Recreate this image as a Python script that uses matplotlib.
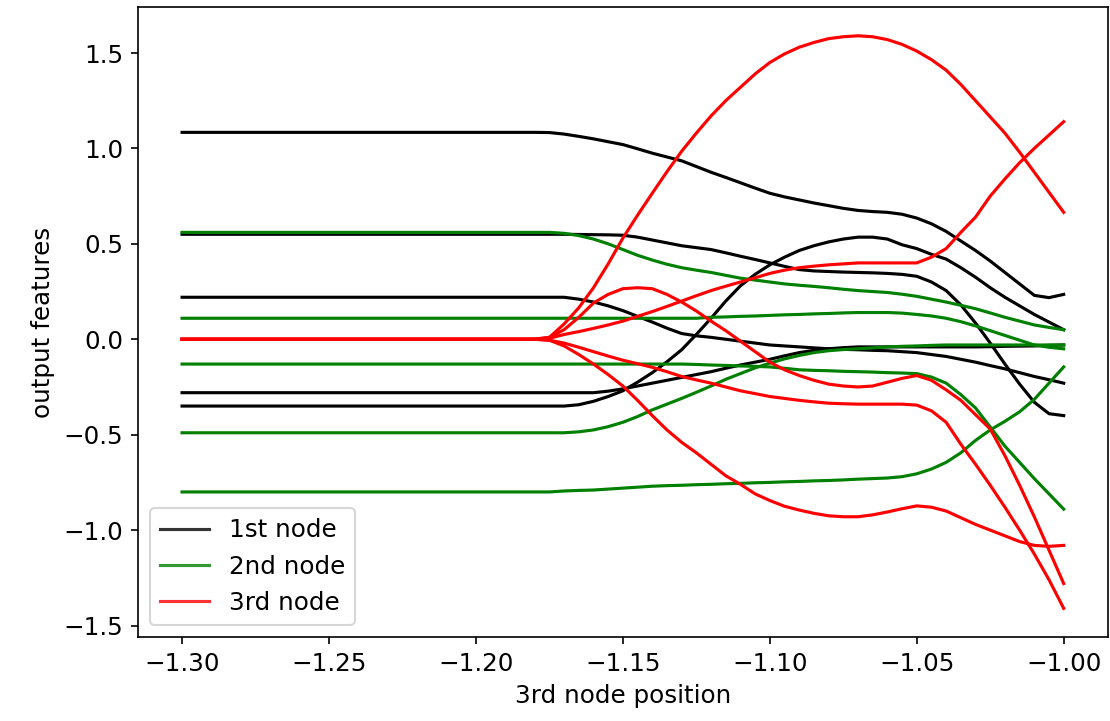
import numpy as np
import matplotlib
matplotlib.use("Agg")
import matplotlib.pyplot as plt

# 3rd node position (x) values
position = [-1.300, -1.180, -1.175, -1.170, -1.165, -1.160, -1.155, -1.150, -1.145, -1.140,
            -1.135, -1.130, -1.125, -1.120, -1.115, -1.110, -1.105, -1.100, -1.095, -1.090,
            -1.085, -1.080, -1.075, -1.070, -1.065, -1.060, -1.055, -1.050, -1.045, -1.040,
            -1.035, -1.030, -1.025, -1.020, -1.015, -1.010, -1.005, -1.000]

# 1st node output features
node1 = [
    [1.084, 1.084, 1.083, 1.075, 1.063, 1.05, 1.035, 1.02, 0.998, 0.975,
     0.955, 0.935, 0.905, 0.875, 0.848, 0.82, 0.792, 0.765, 0.746, 0.73,
     0.714, 0.70, 0.686, 0.675, 0.669, 0.665, 0.655, 0.635, 0.605, 0.565,
     0.515, 0.465, 0.41, 0.35, 0.29, 0.23, 0.218, 0.235],
    [0.55, 0.55, 0.55, 0.55, 0.549, 0.548, 0.547, 0.545, 0.535, 0.52,
     0.505, 0.49, 0.48, 0.47, 0.453, 0.435, 0.418, 0.40, 0.382, 0.365,
     0.358, 0.355, 0.352, 0.35, 0.348, 0.345, 0.34, 0.33, 0.30, 0.255,
     0.18, 0.085, -0.02, -0.13, -0.235, -0.33, -0.39, -0.40],
    [0.22, 0.22, 0.22, 0.22, 0.21, 0.195, 0.175, 0.15, 0.12, 0.09,
     0.058, 0.03, 0.018, 0.01, 0.0, -0.01, -0.02, -0.03, -0.035, -0.04,
     -0.045, -0.05, -0.053, -0.055, -0.058, -0.06, -0.065, -0.07, -0.08, -0.09,
     -0.105, -0.12, -0.138, -0.155, -0.175, -0.195, -0.212, -0.23],
    [-0.28, -0.28, -0.28, -0.28, -0.28, -0.28, -0.272, -0.26, -0.245, -0.23,
     -0.215, -0.20, -0.185, -0.17, -0.152, -0.135, -0.12, -0.105, -0.087, -0.07,
     -0.058, -0.05, -0.044, -0.04, -0.04, -0.04, -0.04, -0.04, -0.04, -0.04,
     -0.04, -0.04, -0.039, -0.037, -0.036, -0.035, -0.032, -0.03],
    [-0.35, -0.35, -0.35, -0.35, -0.343, -0.325, -0.30, -0.27, -0.225, -0.175,
     -0.118, -0.055, 0.025, 0.11, 0.20, 0.28, 0.34, 0.39, 0.43, 0.465,
     0.49, 0.51, 0.525, 0.535, 0.535, 0.525, 0.495, 0.475, 0.445, 0.42,
     0.375, 0.325, 0.27, 0.22, 0.175, 0.13, 0.09, 0.05],
]

# 2nd node output features
node2 = [
    [0.56, 0.56, 0.56, 0.555, 0.543, 0.525, 0.50, 0.47, 0.44, 0.415,
     0.393, 0.375, 0.362, 0.35, 0.335, 0.32, 0.31, 0.30, 0.29, 0.283,
     0.277, 0.27, 0.262, 0.255, 0.25, 0.245, 0.236, 0.225, 0.21, 0.195,
     0.178, 0.16, 0.138, 0.115, 0.095, 0.075, 0.062, 0.05],
    [0.11, 0.11, 0.11, 0.11, 0.11, 0.11, 0.11, 0.11, 0.11, 0.11,
     0.11, 0.11, 0.11, 0.115, 0.117, 0.12, 0.122, 0.125, 0.128, 0.13,
     0.133, 0.135, 0.138, 0.14, 0.14, 0.14, 0.137, 0.13, 0.122, 0.11,
     0.092, 0.07, 0.045, 0.02, -0.005, -0.03, -0.042, -0.05],
    [-0.13, -0.13, -0.13, -0.13, -0.13, -0.13, -0.13, -0.13, -0.13, -0.13,
     -0.13, -0.13, -0.132, -0.135, -0.137, -0.14, -0.142, -0.145, -0.152, -0.16,
     -0.163, -0.165, -0.168, -0.17, -0.172, -0.175, -0.177, -0.18, -0.198, -0.23,
     -0.29, -0.36, -0.46, -0.56, -0.645, -0.73, -0.81, -0.89],
    [-0.49, -0.49, -0.49, -0.49, -0.485, -0.475, -0.458, -0.435, -0.405, -0.37,
     -0.34, -0.31, -0.278, -0.245, -0.21, -0.18, -0.15, -0.125, -0.103, -0.085,
     -0.07, -0.06, -0.054, -0.05, -0.045, -0.04, -0.037, -0.035, -0.032, -0.03,
     -0.03, -0.03, -0.03, -0.03, -0.03, -0.03, -0.03, -0.03],
    [-0.80, -0.80, -0.80, -0.795, -0.792, -0.79, -0.785, -0.78, -0.775, -0.77,
     -0.767, -0.765, -0.762, -0.76, -0.757, -0.755, -0.752, -0.75, -0.747, -0.745,
     -0.742, -0.74, -0.737, -0.733, -0.73, -0.727, -0.72, -0.705, -0.68, -0.645,
     -0.595, -0.53, -0.475, -0.43, -0.38, -0.315, -0.23, -0.145],
]

# 3rd node output features
node3 = [
    [0.0, 0.0, 0.01, 0.08, 0.165, 0.27, 0.395, 0.53, 0.65, 0.765,
     0.878, 0.985, 1.08, 1.17, 1.25, 1.32, 1.39, 1.45, 1.495, 1.53,
     1.555, 1.575, 1.585, 1.59, 1.585, 1.57, 1.545, 1.51, 1.465, 1.41,
     1.335, 1.25, 1.165, 1.08, 0.98, 0.875, 0.77, 0.665],
    [0.0, 0.0, 0.005, 0.025, 0.04, 0.057, 0.075, 0.095, 0.12, 0.145,
     0.172, 0.20, 0.228, 0.255, 0.278, 0.30, 0.322, 0.345, 0.362, 0.375,
     0.383, 0.39, 0.395, 0.40, 0.40, 0.40, 0.40, 0.40, 0.43, 0.475,
     0.56, 0.64, 0.75, 0.84, 0.925, 1.00, 1.07, 1.14],
    [0.0, 0.0, 0.01, 0.05, 0.115, 0.19, 0.235, 0.265, 0.27, 0.265,
     0.235, 0.195, 0.148, 0.095, 0.045, -0.01, -0.065, -0.12, -0.16, -0.19,
     -0.215, -0.235, -0.245, -0.25, -0.245, -0.225, -0.205, -0.19, -0.215, -0.265,
     -0.32, -0.395, -0.47, -0.61, -0.765, -0.93, -1.105, -1.28],
    [0.0, 0.0, -0.005, -0.02, -0.042, -0.065, -0.088, -0.11, -0.128, -0.147,
     -0.17, -0.195, -0.213, -0.23, -0.25, -0.27, -0.285, -0.30, -0.31, -0.32,
     -0.328, -0.335, -0.338, -0.34, -0.34, -0.34, -0.34, -0.345, -0.375, -0.435,
     -0.55, -0.655, -0.765, -0.88, -1.0, -1.125, -1.26, -1.41],
    [0.0, 0.0, -0.005, -0.035, -0.08, -0.13, -0.185, -0.245, -0.32, -0.40,
     -0.475, -0.54, -0.595, -0.655, -0.715, -0.76, -0.81, -0.845, -0.875, -0.895,
     -0.912, -0.925, -0.93, -0.93, -0.92, -0.905, -0.888, -0.873, -0.88, -0.90,
     -0.935, -0.97, -1.0, -1.03, -1.06, -1.08, -1.085, -1.08],
]

labels = ["1st node", "2nd node", "3rd node"]
colors = ["k", "g", "r"]

plt.rcParams["font.size"] = 11.8

fig = plt.figure(figsize=(7.4, 4.807), dpi=150)
ax = fig.add_axes([0.1243, 0.1165, 0.8737, 0.8735])

for feats, col, lab in zip([node1, node2, node3], colors, labels):
    for i, f in enumerate(feats):
        ax.plot(position, f, color=col, label=lab if i == 0 else None)

ax.set_xlabel("3rd node position")
ax.set_ylabel("output features")
leg = ax.legend(loc="lower left")
for h in leg.legend_handles:
    h.set_alpha(0.8)

fig.savefig("out.png", dpi=150)
